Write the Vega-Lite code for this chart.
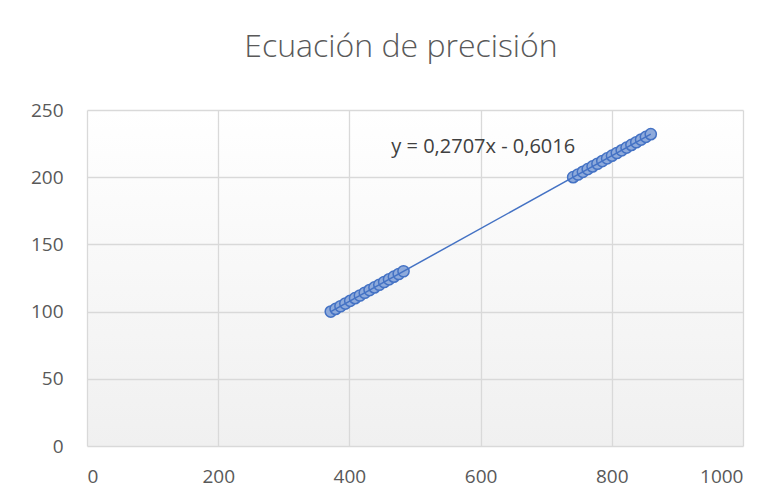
{
  "$schema": "https://vega.github.io/schema/vega-lite/v6.json",
  "width": 656,
  "height": 336,
  "autosize": {"type": "none"},
  "padding": {"left": 87, "top": 110, "right": 41, "bottom": 58},
  "background": "white",
  "title": {
    "text": "Ecuación de precisión",
    "font": "Open Sans",
    "fontWeight": 300,
    "fontSize": 32,
    "color": "#595959",
    "anchor": "middle",
    "dx": -14,
    "offset": 37
  },
  "config": {
    "view": {
      "stroke": null,
      "fill": {
        "gradient": "linear",
        "x1": 0, "y1": 0, "x2": 0, "y2": 1,
        "stops": [
          {"offset": 0, "color": "#ffffff"},
          {"offset": 1, "color": "#f0f0f0"}
        ]
      }
    },
    "axis": {
      "labelFont": "Open Sans",
      "labelFontSize": 19,
      "labelColor": "#595959",
      "gridColor": "#d9d9d9",
      "gridWidth": 1.3,
      "domain": false,
      "ticks": false,
      "title": null
    }
  },
  "datasets": {
    "pts": [
      {"x": 371.6, "y": 100}, {"x": 379.0, "y": 102}, {"x": 386.4, "y": 104}, {"x": 393.8, "y": 106},
      {"x": 401.2, "y": 108}, {"x": 408.6, "y": 110}, {"x": 416.0, "y": 112}, {"x": 423.4, "y": 114},
      {"x": 430.8, "y": 116}, {"x": 438.2, "y": 118}, {"x": 445.6, "y": 120}, {"x": 453.0, "y": 122},
      {"x": 460.4, "y": 124}, {"x": 467.8, "y": 126}, {"x": 475.2, "y": 128}, {"x": 482.5, "y": 130},
      {"x": 741.1, "y": 200}, {"x": 748.5, "y": 202}, {"x": 755.9, "y": 204}, {"x": 763.3, "y": 206},
      {"x": 770.7, "y": 208}, {"x": 778.1, "y": 210}, {"x": 785.5, "y": 212}, {"x": 792.9, "y": 214},
      {"x": 800.3, "y": 216}, {"x": 807.7, "y": 218}, {"x": 815.1, "y": 220}, {"x": 822.5, "y": 222},
      {"x": 829.9, "y": 224}, {"x": 837.3, "y": 226}, {"x": 844.6, "y": 228}, {"x": 852.0, "y": 230},
      {"x": 859.4, "y": 232}
    ],
    "eq": [
      {"x": 604, "y": 222.5, "label": "y = 0,2707x - 0,6016"}
    ]
  },
  "layer": [
    {
      "data": {"name": "pts"},
      "mark": {"type": "point", "filled": true, "size": 125, "fill": "#8eaadb", "stroke": "#4472c4", "strokeWidth": 1.5, "opacity": 1, "fillOpacity": 1},
      "encoding": {
        "x": {"field": "x", "type": "quantitative", "scale": {"domain": [0, 1000], "nice": false}, "axis": {"values": [0, 200, 400, 600, 800, 1000], "format": "d", "labelPadding": 21}},
        "y": {"field": "y", "type": "quantitative", "scale": {"domain": [0, 250], "nice": false}, "axis": {"values": [0, 50, 100, 150, 200, 250], "format": "d", "labelPadding": 24}}
      }
    },
    {
      "data": {"name": "pts"},
      "transform": [{"regression": "y", "on": "x"}],
      "mark": {"type": "line", "color": "#4472c4", "strokeWidth": 1.5},
      "encoding": {
        "x": {"field": "x", "type": "quantitative"},
        "y": {"field": "y", "type": "quantitative"}
      }
    },
    {
      "data": {"name": "eq"},
      "mark": {"type": "text", "font": "Open Sans", "fontSize": 20, "color": "#404040", "align": "center", "baseline": "middle"},
      "encoding": {
        "x": {"field": "x", "type": "quantitative"},
        "y": {"field": "y", "type": "quantitative"},
        "text": {"field": "label"}
      }
    }
  ]
}
